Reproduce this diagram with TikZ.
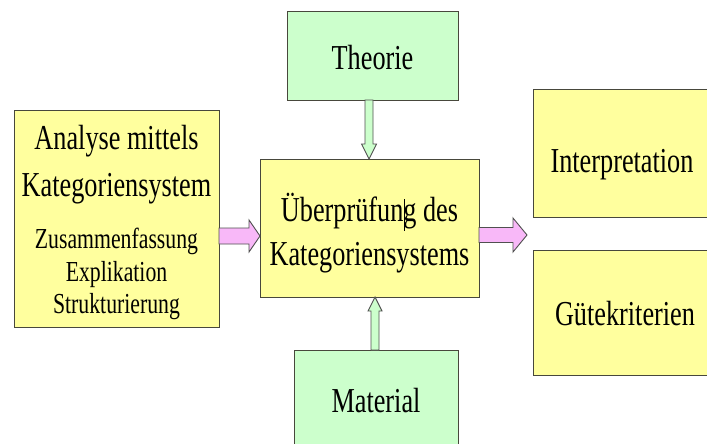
\documentclass[tikz,border=0pt]{standalone}
\usepackage{fontspec}
\setmainfont{Liberation Serif}[FakeStretch=0.75]
\usetikzlibrary{calc}
\definecolor{boxyellow}{RGB}{255,255,158}
\definecolor{boxgreen}{RGB}{204,255,204}
\definecolor{arrowpink}{RGB}{248,184,248}
\definecolor{edgegray}{RGB}{72,72,60}
\definecolor{arrowedge}{RGB}{80,80,80}
% #1 style, #2 start, #3 tip, #4 shaft half width, #5 head half width, #6 head length
\newcommand\harrowblock[6]{%
  \draw[#1] ($(#2)+(0,-#4)$) -- ($(#3)+(-#6,-#4)$) -- ($(#3)+(-#6,-#5)$) -- (#3)
    -- ($(#3)+(-#6,#5)$) -- ($(#3)+(-#6,#4)$) -- ($(#2)+(0,#4)$) -- cycle;}
% vertical: #6 signed head offset (negative for downward arrow)
\newcommand\varrowblock[6]{%
  \draw[#1] ($(#2)+(-#4,0)$) -- ($(#3)+(-#4,#6)$) -- ($(#3)+(-#5,#6)$) -- (#3)
    -- ($(#3)+(#5,#6)$) -- ($(#3)+(#4,#6)$) -- ($(#2)+(#4,0)$) -- cycle;}
\begin{document}
\begin{tikzpicture}[x=1pt,y=-1pt,
  box/.style={draw=edgegray, line width=1pt, inner sep=0pt, outer sep=0pt},
  ybox/.style={box, fill=boxyellow},
  gbox/.style={box, fill=boxgreen},
  big/.style={font=\fontsize{35}{40}\selectfont, anchor=base, inner sep=0pt},
  small/.style={font=\fontsize{29}{33}\selectfont, anchor=base, inner sep=0pt},
  parrow/.style={draw=arrowedge, fill=arrowpink, line width=0.9pt, line join=miter},
  garrow/.style={draw=arrowedge, fill=boxgreen, line width=0.9pt, line join=miter},
  cursor/.style={draw=black, line width=0.9pt}]
\clip (0,0) rectangle (707,444);
\fill[white] (0,0) rectangle (707,444);

% boxes
\node[ybox, minimum width=205pt, minimum height=217pt] (L) at (116.5,218.5) {};
\node[gbox, minimum width=171pt, minimum height=88pt] (T) at (372.5,56) {};
\node[ybox, minimum width=219pt, minimum height=138pt] (C) at (369.5,228) {};
\node[gbox, minimum width=164pt, minimum height=120pt] (M) at (376,410) {};
\node[ybox, minimum width=187pt, minimum height=127pt] (I) at (626.5,153.5) {};
\node[ybox, minimum width=187pt, minimum height=125pt] (G) at (626.5,312.5) {};

% texts
\node[big] (l1) at (116.5,149) {Analyse mittels};
\node[big] (l2) at (116.5,196) {Kategoriensystem};
\node[small] (l3) at (116.5,248) {Zusammenfassung};
\node[small] (l4) at (116.5,281) {Explikation};
\node[small] (l5) at (116.5,313) {Strukturierung};
\node[big] (t1) at (372.5,70) {Theorie};
\node[big] (c1) at (369.5,221) {Überprüfung des};
\node[big] (c2) at (369.5,265) {Kategoriensystems};
\node[big] (m1) at (376,412) {Material};
\node[big] (i1) at (622,172) {Interpretation};
\node[big] (g1) at (625,325) {Gütekriterien};

% text cursor
\coordinate (cur1) at (404,199);
\coordinate (cur2) at (404,231);
\draw[cursor] (cur1) -- (cur2);

% arrows
\coordinate (la) at (L.east |- 0,236);
\coordinate (lb) at (C.west |- 0,236);
\harrowblock{parrow}{la}{lb}{8}{16}{11}
\coordinate (ra) at (C.east |- 0,235);
\coordinate (rtip) at (527,235);
\harrowblock{parrow}{ra}{rtip}{7.5}{17}{14}
\coordinate (ta) at (T.south -| 369,0);
\coordinate (tb) at (C.north -| 369,0);
\varrowblock{garrow}{ta}{tb}{4}{7.5}{-15}
\coordinate (ma) at (M.north -| 375,0);
\coordinate (mb) at (C.south -| 375,0);
\varrowblock{garrow}{ma}{mb}{4}{7}{14}
\end{tikzpicture}
\end{document}
